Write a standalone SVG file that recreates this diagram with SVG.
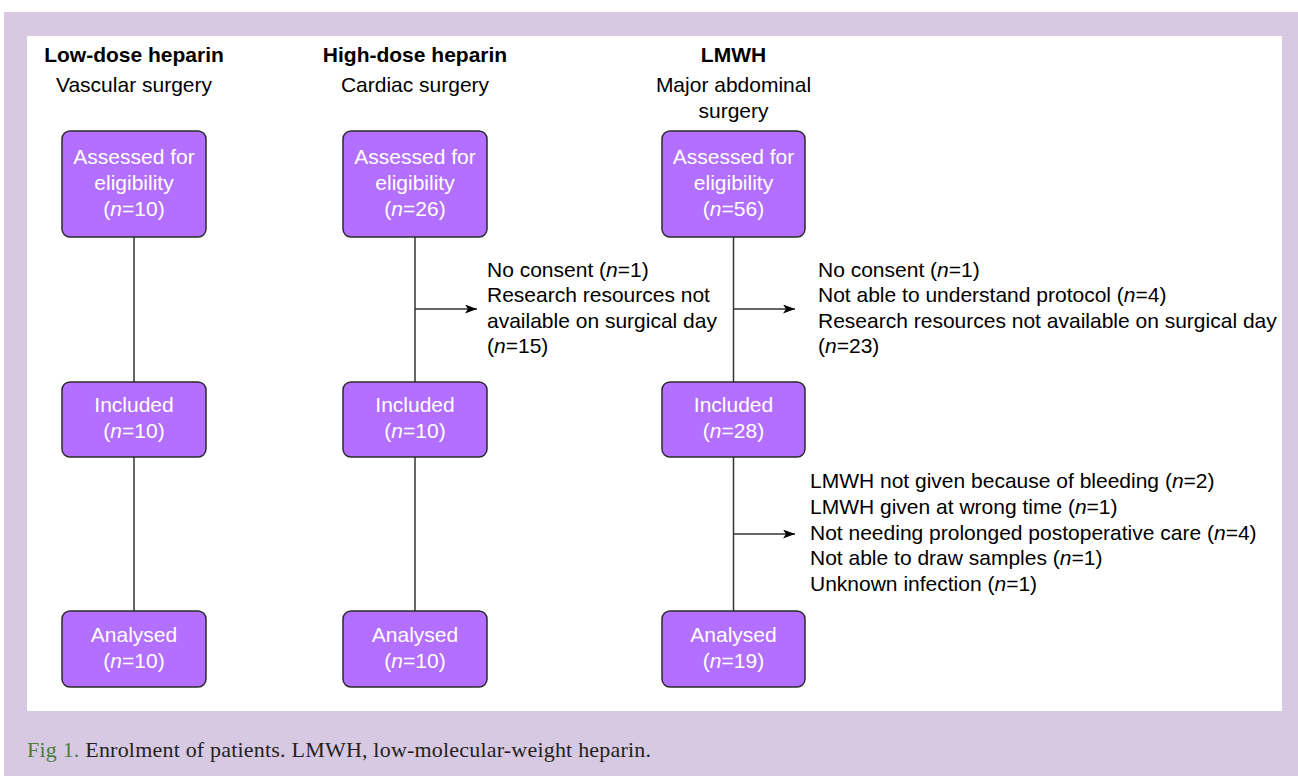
<svg xmlns="http://www.w3.org/2000/svg" width="1298" height="776" viewBox="0 0 1298 776">
<defs>
<style>
.bg{fill:#d8c9e3}
.panel{fill:#ffffff}
.box{fill:#b36fff;stroke:#2b2b2b;stroke-width:1.5}
.bt{font-family:"Liberation Sans",Arial,sans-serif;font-size:21px;fill:#ffffff;text-anchor:middle}
.hd{font-family:"Liberation Sans",Arial,sans-serif;font-size:21px;fill:#000000;text-anchor:middle}
.hdb{font-weight:bold}
.lt{font-family:"Liberation Sans",Arial,sans-serif;font-size:21px;fill:#000000}
.i{font-style:italic}
.ln{stroke:#333333;stroke-width:1.5;fill:none}
.cap{font-family:"Liberation Serif","Times New Roman",serif;font-size:22px;fill:#231f20}
</style>
<marker id="arr" markerWidth="13" markerHeight="9" refX="12" refY="4.5" orient="auto" markerUnits="userSpaceOnUse">
<path d="M0,0 L12,4.5 L0,9 L3,4.5 Z" fill="#000000"/>
</marker>
</defs>
<rect class="bg" x="4" y="12" width="1294" height="764"/>
<rect class="panel" x="27" y="36" width="1255" height="675"/>

<g id="headers">
<text class="hd hdb" x="134" y="62">Low-dose heparin</text>
<text class="hd" x="134" y="92">Vascular surgery</text>
<text class="hd hdb" x="415" y="62">High-dose heparin</text>
<text class="hd" x="415" y="92">Cardiac surgery</text>
<text class="hd hdb" x="733.5" y="62">LMWH</text>
<text class="hd" x="733.5" y="92">Major abdominal</text>
<text class="hd" x="733.5" y="118">surgery</text>
</g>

<g id="connectors">
<line class="ln" x1="134" y1="237" x2="134" y2="382"/>
<line class="ln" x1="134" y1="457" x2="134" y2="611"/>
<line class="ln" x1="415" y1="237" x2="415" y2="382"/>
<line class="ln" x1="415" y1="457" x2="415" y2="611"/>
<line class="ln" x1="733.5" y1="237" x2="733.5" y2="382"/>
<line class="ln" x1="733.5" y1="457" x2="733.5" y2="611"/>
<line class="ln" x1="415" y1="309" x2="477" y2="309" marker-end="url(#arr)"/>
<line class="ln" x1="733.5" y1="309" x2="795" y2="309" marker-end="url(#arr)"/>
<line class="ln" x1="733.5" y1="534" x2="795" y2="534" marker-end="url(#arr)"/>
</g>

<g id="assessed-low">
<rect class="box" x="62" y="131" width="144" height="106" rx="8"/>
<text class="bt" x="134" y="164">Assessed for</text>
<text class="bt" x="134" y="190">eligibility</text>
<text class="bt" x="134" y="216">(<tspan class="i">n</tspan>=10)</text>
</g>
<g id="assessed-high">
<rect class="box" x="343" y="131" width="144" height="106" rx="8"/>
<text class="bt" x="415" y="164">Assessed for</text>
<text class="bt" x="415" y="190">eligibility</text>
<text class="bt" x="415" y="216">(<tspan class="i">n</tspan>=26)</text>
</g>
<g id="assessed-lmwh">
<rect class="box" x="662" y="131" width="143" height="106" rx="8"/>
<text class="bt" x="733.5" y="164">Assessed for</text>
<text class="bt" x="733.5" y="190">eligibility</text>
<text class="bt" x="733.5" y="216">(<tspan class="i">n</tspan>=56)</text>
</g>

<g id="included-low">
<rect class="box" x="62" y="382" width="144" height="75" rx="8"/>
<text class="bt" x="134" y="412">Included</text>
<text class="bt" x="134" y="438">(<tspan class="i">n</tspan>=10)</text>
</g>
<g id="included-high">
<rect class="box" x="343" y="382" width="144" height="75" rx="8"/>
<text class="bt" x="415" y="412">Included</text>
<text class="bt" x="415" y="438">(<tspan class="i">n</tspan>=10)</text>
</g>
<g id="included-lmwh">
<rect class="box" x="662" y="382" width="143" height="75" rx="8"/>
<text class="bt" x="733.5" y="412">Included</text>
<text class="bt" x="733.5" y="438">(<tspan class="i">n</tspan>=28)</text>
</g>

<g id="analysed-low">
<rect class="box" x="62" y="611" width="144" height="76" rx="8"/>
<text class="bt" x="134" y="642">Analysed</text>
<text class="bt" x="134" y="668">(<tspan class="i">n</tspan>=10)</text>
</g>
<g id="analysed-high">
<rect class="box" x="343" y="611" width="144" height="76" rx="8"/>
<text class="bt" x="415" y="642">Analysed</text>
<text class="bt" x="415" y="668">(<tspan class="i">n</tspan>=10)</text>
</g>
<g id="analysed-lmwh">
<rect class="box" x="662" y="611" width="143" height="76" rx="8"/>
<text class="bt" x="733.5" y="642">Analysed</text>
<text class="bt" x="733.5" y="668">(<tspan class="i">n</tspan>=19)</text>
</g>

<g id="excluded-high">
<text class="lt" x="487" y="277">No consent (<tspan class="i">n</tspan>=1)</text>
<text class="lt" x="487" y="302.4">Research resources not</text>
<text class="lt" x="487" y="327.8">available on surgical day</text>
<text class="lt" x="487" y="353.2">(<tspan class="i">n</tspan>=15)</text>
</g>
<g id="excluded-lmwh">
<text class="lt" x="818" y="277">No consent (<tspan class="i">n</tspan>=1)</text>
<text class="lt" x="818" y="302.4">Not able to understand protocol (<tspan class="i">n</tspan>=4)</text>
<text class="lt" x="818" y="327.8">Research resources not available on surgical day</text>
<text class="lt" x="818" y="353.2">(<tspan class="i">n</tspan>=23)</text>
</g>
<g id="dropped-lmwh">
<text class="lt" x="810" y="488.3">LMWH not given because of bleeding (<tspan class="i">n</tspan>=2)</text>
<text class="lt" x="810" y="514">LMWH given at wrong time (<tspan class="i">n</tspan>=1)</text>
<text class="lt" x="810" y="539.6">Not needing prolonged postoperative care (<tspan class="i">n</tspan>=4)</text>
<text class="lt" x="810" y="565.2">Not able to draw samples (<tspan class="i">n</tspan>=1)</text>
<text class="lt" x="810" y="590.8">Unknown infection (<tspan class="i">n</tspan>=1)</text>
</g>

<text class="cap" x="27" y="757" textLength="624" lengthAdjust="spacing"><tspan fill="#4a7d3c">Fig 1.</tspan> Enrolment of patients. LMWH, low-molecular-weight heparin.</text>
</svg>
